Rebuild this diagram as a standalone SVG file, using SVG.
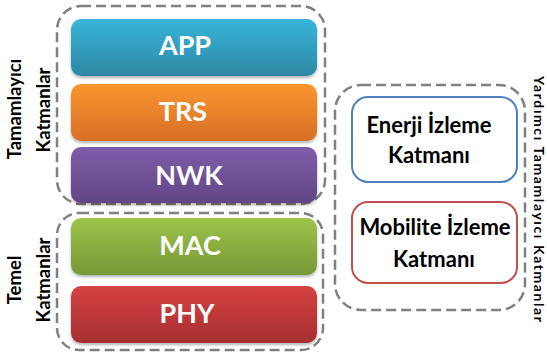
<svg xmlns="http://www.w3.org/2000/svg" width="547" height="356" viewBox="0 0 547 356">
<style>
.dash{fill:none;stroke:#808080;stroke-width:2.5;stroke-dasharray:10 5}
.layer{filter:url(#sh)}
.lt{font-family:Lato,"Open Sans",sans-serif;font-weight:bold;font-size:27px;fill:#fff;text-anchor:middle}
.side{font-family:Lato,"Open Sans",sans-serif;font-weight:bold;font-size:18.5px;fill:#000;text-anchor:middle}
.mt{font-family:Lato,"Open Sans",sans-serif;font-weight:bold;font-size:22px;fill:#000;text-anchor:middle}
.rt{font-family:Lato,"Open Sans",sans-serif;font-weight:bold;font-size:14px;fill:#000}
</style>
<defs>
<filter id="sh" x="-5%" y="-10%" width="110%" height="130%"><feDropShadow dx="0" dy="2" stdDeviation="1.5" flood-color="#000" flood-opacity="0.3"/></filter>
<linearGradient id="gApp" x1="0" y1="0" x2="0" y2="1"><stop offset="0" stop-color="#38b5db"/><stop offset="1" stop-color="#2d88a3"/></linearGradient>
<linearGradient id="gTrs" x1="0" y1="0" x2="0" y2="1"><stop offset="0" stop-color="#f9962f"/><stop offset="1" stop-color="#d76f27"/></linearGradient>
<linearGradient id="gNwk" x1="0" y1="0" x2="0" y2="1"><stop offset="0" stop-color="#805da9"/><stop offset="1" stop-color="#614686"/></linearGradient>
<linearGradient id="gMac" x1="0" y1="0" x2="0" y2="1"><stop offset="0" stop-color="#9dc44b"/><stop offset="1" stop-color="#769838"/></linearGradient>
<linearGradient id="gPhy" x1="0" y1="0" x2="0" y2="1"><stop offset="0" stop-color="#d64141"/><stop offset="1" stop-color="#a62f2f"/></linearGradient>
</defs>
<g id="group-tamamlayici">
<rect class="dash" x="57" y="6" width="268" height="198" rx="24"/>
<text class="side" transform="translate(21,109) rotate(-90)">Tamamlayıcı</text>
<text class="side" transform="translate(50,110) rotate(-90)">Katmanlar</text>
</g>
<g id="group-temel">
<rect class="dash" x="57" y="213" width="266" height="137" rx="22"/>
<text class="side" transform="translate(21,280) rotate(-90)">Temel</text>
<text class="side" transform="translate(50,280) rotate(-90)">Katmanlar</text>
</g>
<g id="group-yardimci">
<rect class="dash" x="335" y="85" width="190" height="225" rx="26"/>
<text class="rt" transform="translate(534,76) rotate(90)" textLength="246" lengthAdjust="spacing">Yardımcı Tamamlayıcı Katmanlar</text>
</g>
<g id="app">
<rect class="layer" x="71" y="19" width="246" height="57" rx="10" fill="url(#gApp)"/>
<text class="lt" x="185" y="55">APP</text>
</g>
<g id="trs">
<rect class="layer" x="71" y="84" width="246" height="57" rx="10" fill="url(#gTrs)"/>
<text class="lt" x="183" y="121">TRS</text>
</g>
<g id="nwk">
<rect class="layer" x="71" y="147" width="246" height="56" rx="10" fill="url(#gNwk)"/>
<text class="lt" x="189" y="185">NWK</text>
</g>
<g id="mac">
<rect class="layer" x="71" y="218" width="246" height="57" rx="10" fill="url(#gMac)"/>
<text class="lt" x="190" y="255">MAC</text>
</g>
<g id="phy">
<rect class="layer" x="71" y="286" width="246" height="57" rx="10" fill="url(#gPhy)"/>
<text class="lt" x="187" y="323">PHY</text>
</g>
<g id="enerji">
<rect x="352" y="97" width="165" height="85" rx="16" fill="#fff" stroke="#4f81bd" stroke-width="2"/>
<text class="mt" x="429" y="133">Enerji İzleme</text>
<text class="mt" x="429" y="163">Katmanı</text>
</g>
<g id="mobilite">
<rect x="352" y="202" width="165" height="81" rx="16" fill="#fff" stroke="#c0504d" stroke-width="2"/>
<text class="mt" x="435" y="235">Mobilite İzleme</text>
<text class="mt" x="434" y="267">Katmanı</text>
</g>
<g id="connectors"></g>
</svg>
